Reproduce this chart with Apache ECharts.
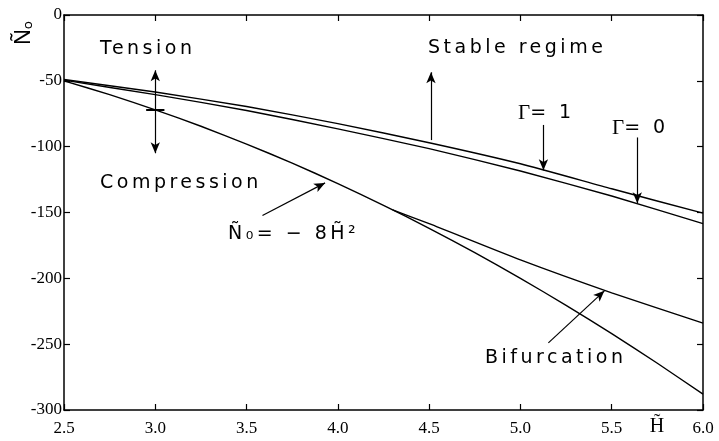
<!DOCTYPE html>
<html>
<head>
<meta charset="utf-8">
<script src="https://cdn.jsdelivr.net/npm/echarts@6/dist/echarts.min.js"></script>
<style>
  html, body { margin: 0; padding: 0; background: #fff; }
  #chart { width: 719px; height: 441px; }
</style>
</head>
<body>
<div id="chart"></div>
<script>
// Reduced thickness H~ (horizontal axis) and axial load N~0 (vertical axis)
const xTickLabels = ['2.5', '3.0', '3.5', '4.0', '4.5', '5.0', '5.5', '6.0'];
const yTickLabels = ['-300', '-250', '-200', '-150', '-100', '-50', '0'];

// Stability boundaries for the two values of Gamma
const hCoarse = [2.5, 3.0, 3.5, 4.0, 4.5, 5.0, 5.5, 6.0];
const gammaOne = [-49, -58.5, -69.5, -82.5, -97, -113, -132, -150.5];
const gammaZero = [-49.5, -60.5, -72.5, -86.5, -101.5, -118.5, -137.5, -158.5];

// Tension / compression line N~0 = -8 H~^2
const hFine = [2.5, 2.75, 3.0, 3.25, 3.5, 3.75, 4.0, 4.25, 4.5, 4.75, 5.0, 5.25, 5.5, 5.75, 6.0];
const eightH2 = [-50, -60.5, -72, -84.5, -98, -112.5, -128, -144.5, -162, -180.5, -200, -220.5, -242, -264.5, -288];

// Bifurcation branch
const hBif = [4.3, 4.5, 5.0, 5.5, 6.0];
const bifurcation = [-148, -158.5, -186, -211, -234];

const pairs = (xs, ys) => xs.map((x, i) => [x, ys[i]]);

// Widely tracked lettering for the sans-serif annotations
(function () {
  const proto = CanvasRenderingContext2D.prototype;
  const fill = proto.fillText;
  proto.fillText = function (t, x, y, w) {
    if ('letterSpacing' in this) {
      this.letterSpacing = /DejaVu/.test(this.font) ? '3.5px' : '0px';
    }
    return w === undefined ? fill.call(this, t, x, y) : fill.call(this, t, x, y, w);
  };
})();

const chart = echarts.init(document.getElementById('chart'), null, { renderer: 'canvas' });

const ink = '#000';
const serif = 'Liberation Serif';
const sans = 'DejaVu Sans';
const tickFont = { fontFamily: serif, fontSize: 17, color: ink };

function curve(data, smooth) {
  return {
    type: 'line', data: data, showSymbol: false, symbol: 'none',
    smooth: smooth, silent: true,
    lineStyle: { color: ink, width: 1.4 }
  };
}

function arrow(from, to, heads) {
  return [
    { coord: from, symbol: heads[0] },
    { coord: to, symbol: heads[1] }
  ];
}

const axisCommon = {
  type: 'value',
  axisLine: { show: true, onZero: false, lineStyle: { color: ink, width: 1.5 } },
  axisTick: { show: true, inside: true, length: 6, lineStyle: { color: ink, width: 1.2 } },
  splitLine: { show: false }
};

chart.setOption({
  animation: false,
  backgroundColor: '#fff',
  textStyle: { fontFamily: serif, color: ink },
  grid: { left: 64, right: 16, top: 15, bottom: 31 },
  xAxis: [
    Object.assign({}, axisCommon, {
      min: 2.5, max: 6.0, interval: 0.5, position: 'bottom',
      axisLabel: Object.assign({}, tickFont, {
        margin: 10,
        formatter: v => xTickLabels[Math.round((v - 2.5) / 0.5)]
      })
    }),
    Object.assign({}, axisCommon, {
      min: 2.5, max: 6.0, interval: 0.5, position: 'top',
      axisLabel: { show: false }
    })
  ],
  yAxis: [
    Object.assign({}, axisCommon, {
      min: -300, max: 0, interval: 50, position: 'left',
      axisLabel: Object.assign({}, tickFont, {
        margin: 2,
        formatter: v => yTickLabels[Math.round((v + 300) / 50)]
      })
    }),
    Object.assign({}, axisCommon, {
      min: -300, max: 0, interval: 50, position: 'right',
      axisLabel: { show: false }
    })
  ],
  series: [
    curve(pairs(hCoarse, gammaOne), 0.2),
    curve(pairs(hCoarse, gammaZero), 0.2),
    curve(pairs(hFine, eightH2), 0.2),
    Object.assign(curve(pairs(hBif, bifurcation), 0.2), {
      markLine: {
        silent: true,
        symbolSize: [7, 11],
        label: { show: false },
        lineStyle: { color: ink, width: 1.2, type: 'solid' },
        data: [
          arrow([3.0, -42], [3.0, -105], ['arrow', 'arrow']),
          arrow([4.51, -95], [4.51, -43.5], ['none', 'arrow']),
          arrow([5.126, -83.5], [5.126, -118], ['none', 'arrow']),
          arrow([5.64, -93], [5.64, -143], ['none', 'arrow']),
          arrow([3.587, -152.3], [3.93, -127.5], ['none', 'arrow']),
          arrow([5.153, -249], [5.46, -209.5], ['none', 'arrow']),
          [
            { coord: [2.95, -72.3], symbol: 'none', lineStyle: { width: 2 } },
            { coord: [3.05, -72.3], symbol: 'none' }
          ]
        ]
      }
    })
  ],
  graphic: [
    { type: 'text', x: 100, y: 49, style: { text: 'Tension', fontFamily: sans, fontSize: 19, fill: ink, verticalAlign: 'middle' } },
    { type: 'text', x: 100, y: 183, style: { text: 'Compression', fontFamily: sans, fontSize: 19, fill: ink, verticalAlign: 'middle' } },
    { type: 'text', x: 428, y: 48, style: { text: 'Stable regime', fontFamily: sans, fontSize: 19, fill: ink, verticalAlign: 'middle' } },
    { type: 'text', x: 485, y: 358, style: { text: 'Bifurcation', fontFamily: sans, fontSize: 19, fill: ink, verticalAlign: 'middle' } },
    { type: 'text', x: 228, y: 234, style: { text: 'Ñ₀= − 8H\u0303²', fontFamily: sans, fontSize: 19, fill: ink, verticalAlign: 'middle' } },
    {
      type: 'text', x: 518, y: 113,
      style: {
        text: '{g|Γ}{t|= 1}', verticalAlign: 'middle', fill: ink,
        rich: {
          g: { fontFamily: serif, fontSize: 21, fill: ink },
          t: { fontFamily: sans, fontSize: 19, fill: ink }
        }
      }
    },
    {
      type: 'text', x: 612, y: 128,
      style: {
        text: '{g|Γ}{t|= 0}', verticalAlign: 'middle', fill: ink,
        rich: {
          g: { fontFamily: serif, fontSize: 21, fill: ink },
          t: { fontFamily: sans, fontSize: 19, fill: ink }
        }
      }
    },
    {
      // vertical axis title, reading bottom to top
      type: 'text', x: 24, y: 33, rotation: Math.PI / 2,
      style: { text: 'Ñₒ', fontFamily: 'Noto Sans', fontSize: 21, fill: ink, align: 'center', verticalAlign: 'middle' }
    },
    {
      type: 'text', x: 657, y: 427,
      style: { text: 'H\u0303', fontFamily: serif, fontSize: 20, fill: ink, align: 'center', verticalAlign: 'middle' }
    }
  ]
});
</script>
</body>
</html>
